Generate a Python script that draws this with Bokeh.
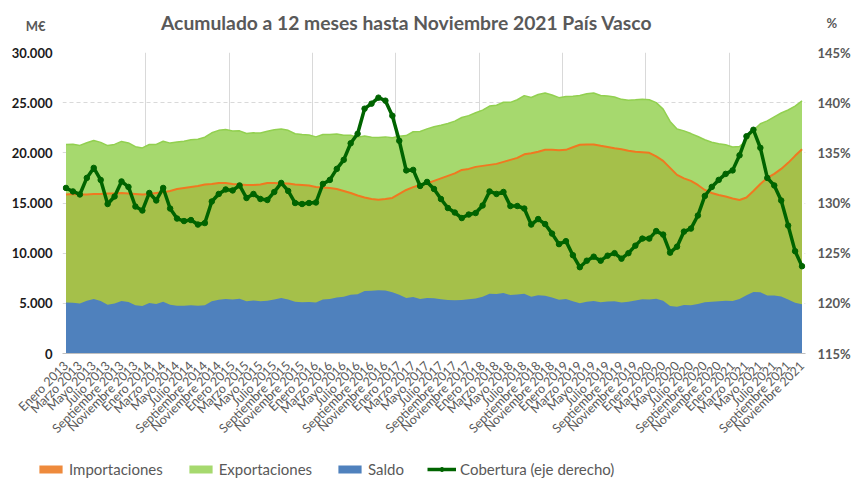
from bokeh.plotting import figure
from bokeh.layouts import column
from bokeh.models import (Range1d, LinearAxis, FixedTicker, ColumnDataSource, Legend,
                          LegendItem, Label, PrintfTickFormatter)
from bokeh.embed import file_html
from bokeh.resources import INLINE

meses = ["Enero", "Febrero", "Marzo", "Abril", "Mayo", "Junio", "Julio", "Agosto",
         "Septiembre", "Octubre", "Noviembre", "Diciembre"]
anios = [2013, 2014, 2015, 2016, 2017, 2018, 2019, 2020, 2021]
periodos = [f"{m} {a}" for a in anios for m in meses][:107]

importaciones = [15850, 15900, 15850, 15850, 15900, 15900, 15950, 15950, 16000, 15950, 15900, 15850,
                 15900, 16000, 16080, 16200, 16400, 16500, 16600, 16700, 16840, 16900, 16990, 16990,
                 16900, 16840, 16800, 16800, 16850, 17000, 17000, 16950, 16950, 16850, 16800, 16750,
                 16600, 16550, 16500, 16400, 16200, 16000, 15750, 15550, 15400, 15320, 15400, 15500,
                 15900, 16300, 16580, 16800, 16950, 17200, 17450, 17700, 17950, 18300, 18400, 18600,
                 18700, 18800, 18900, 19100, 19300, 19500, 19850, 19960, 20100, 20300, 20300, 20250,
                 20300, 20550, 20800, 20830, 20830, 20700, 20580, 20450, 20350, 20200, 20100, 20050,
                 20000, 19650, 19200, 18500, 17800, 17450, 17200, 16800, 16300, 16000, 15800, 15650,
                 15450, 15300, 15550, 16200, 16900, 17500, 17900, 18400, 19000, 19700, 20350]

exportaciones = [20840, 20850, 20740, 21000, 21230, 21040, 20720, 20840, 21140, 20990, 20610, 20490,
                 20830, 20840, 21150, 20970, 21070, 21150, 21300, 21350, 21560, 22000, 22240, 22320,
                 22180, 22190, 21920, 21990, 21970, 22150, 22290, 22370, 22240, 21900, 21820, 21780,
                 21590, 21830, 21830, 21880, 21760, 21750, 21560, 21680, 21550, 21520, 21590, 21500,
                 21660, 21720, 22100, 22130, 22390, 22600, 22750, 22920, 23160, 23520, 23710, 23990,
                 24260, 24660, 24740, 25040, 25030, 25290, 25700, 25520, 25810, 25960, 25770, 25500,
                 25620, 25650, 25710, 25880, 25960, 25720, 25670, 25560, 25330, 25250, 25280, 25350,
                 25290, 25000, 24360, 23130, 22370, 22190, 21920, 21630, 21300, 21060, 20900, 20800,
                 20590, 20620, 21250, 22240, 22900, 23190, 23580, 23970, 24270, 24660, 25170]

saldo = [5090, 5050, 4990, 5250, 5430, 5240, 4870, 4990, 5240, 5140, 4810, 4740,
         5030, 4940, 5170, 4870, 4770, 4750, 4800, 4750, 4820, 5200, 5350, 5430,
         5380, 5450, 5220, 5290, 5220, 5250, 5390, 5520, 5390, 5150, 5120, 5130,
         5090, 5380, 5430, 5580, 5660, 5850, 5910, 6230, 6250, 6300, 6290, 6100,
         5860, 5520, 5620, 5430, 5540, 5500, 5400, 5320, 5310, 5320, 5410, 5490,
         5660, 5960, 5940, 6040, 5830, 5890, 5950, 5660, 5810, 5760, 5570, 5350,
         5420, 5200, 5010, 5150, 5230, 5120, 5190, 5210, 5080, 5150, 5280, 5400,
         5390, 5450, 5260, 4730, 4670, 4840, 4820, 4930, 5100, 5160, 5200, 5250,
         5240, 5420, 5800, 6140, 6100, 5790, 5780, 5670, 5370, 5060, 4920]

cobertura = [131.5, 131.15, 130.85, 132.5, 133.5, 132.3, 129.9, 130.65, 132.15, 131.6, 129.65, 129.25,
             131.0, 130.25, 131.5, 129.45, 128.45, 128.2, 128.3, 127.85, 128.0, 130.15, 130.9, 131.35,
             131.25, 131.75, 130.5, 130.9, 130.4, 130.3, 131.1, 132.0, 131.2, 130.0, 129.9, 130.0,
             130.05, 131.9, 132.3, 133.4, 134.3, 135.95, 136.9, 139.4, 139.9, 140.5, 140.2, 138.7,
             136.2, 133.25, 133.3, 131.7, 132.1, 131.4, 130.4, 129.5, 129.05, 128.5, 128.85, 129.0,
             129.75, 131.15, 130.9, 131.1, 129.7, 129.7, 129.45, 127.85, 128.4, 127.9, 126.95, 125.9,
             126.2, 124.8, 123.6, 124.25, 124.65, 124.25, 124.75, 125.0, 124.45, 125.0, 125.75, 126.45,
             126.45, 127.2, 126.85, 125.05, 125.65, 127.15, 127.45, 128.75, 130.7, 131.6, 132.3, 132.9,
             133.25, 134.75, 136.65, 137.3, 135.5, 132.5, 131.75, 130.25, 127.75, 125.2, 123.7]

y_ticks = [0, 5000, 10000, 15000, 20000, 25000, 30000]
y_tick_labels = ["0", "5.000", "10.000", "15.000", "20.000", "25.000", "30.000"]
pct_ticks = [115, 120, 125, 130, 135, 140, 145]

titulo = "Acumulado a 12 meses hasta Noviembre 2021 País Vasco"
unidad_izq = "M€"
unidad_der = "%"
series = ["Importaciones", "Exportaciones", "Saldo", "Cobertura (eje derecho)"]

FONT = "Lato"
GREY = "#595959"
C_EXP = "#A6D96E"
C_EXP_EDGE = "#92D050"
C_IMP_AREA = "#A5C04A"
C_IMP_LINE = "#F07820"
C_IMP_LEG = "#EE8A3C"
C_SAL = "#4F81BD"
C_COB = "#006400"

W = 853
FRAME_L, FRAME_R = 62, 808
HEAD_H = 40
FOOT_H = 40
MAIN_H = 493 - HEAD_H - FOOT_H


def style_axis(ax, size="13px", color=GREY, bold=True, standoff=10):
    ax.major_label_text_font = FONT
    ax.major_label_text_font_style = "bold" if bold else "normal"
    ax.major_label_text_font_size = size
    ax.major_label_text_color = color
    ax.major_label_standoff = standoff
    ax.major_tick_out = 0
    ax.major_tick_in = 0
    ax.minor_tick_line_color = None
    ax.axis_line_color = None


# ---------- header (title + units) ----------
head = figure(width=W, height=HEAD_H, output_backend="svg", toolbar_location=None,
              x_range=Range1d(FRAME_L, FRAME_R), y_range=Range1d(0, HEAD_H),
              x_axis_location=None, y_axis_location="left",
              min_border_left=FRAME_L, min_border_right=W - FRAME_R,
              min_border_top=0, min_border_bottom=0)
head.outline_line_color = None
head.grid.visible = False
hl = head.yaxis[0]
hl.ticker = FixedTicker(ticks=[HEAD_H - 25])
hl.major_label_overrides = {HEAD_H - 25: unidad_izq}
style_axis(hl, standoff=17)
hr = LinearAxis(ticker=FixedTicker(ticks=[HEAD_H - 22]),
                major_label_overrides={HEAD_H - 22: unidad_der})
style_axis(hr, standoff=21)
head.add_layout(hr, "right")
head.add_layout(Label(x=407.5, y=HEAD_H - 22, text=titulo, text_font=FONT,
                      text_font_style="bold", text_font_size="19.3px", text_color=GREY,
                      text_align="center", text_baseline="middle"))

# ---------- main chart ----------
x = list(range(len(periodos)))
src = ColumnDataSource(dict(x=x, exp=exportaciones, imp=importaciones, sal=saldo,
                            cob=cobertura, zero=[0] * len(x)))

p = figure(width=W, height=MAIN_H, output_backend="svg", toolbar_location=None,
           x_range=Range1d(-0.5, len(x) - 0.5), y_range=Range1d(0, 30000),
           min_border_left=FRAME_L, min_border_right=W - FRAME_R,
           min_border_top=52 - HEAD_H, min_border_bottom=HEAD_H + MAIN_H - 353)
p.extra_y_ranges = {"pct": Range1d(115, 145)}
p.outline_line_color = None

p.varea(x="x", y1="zero", y2="exp", source=src, fill_color=C_EXP)
p.line(x="x", y="exp", source=src, line_color=C_EXP_EDGE, line_width=1.5)
p.varea(x="x", y1="zero", y2="imp", source=src, fill_color=C_IMP_AREA)
p.line(x="x", y="imp", source=src, line_color=C_IMP_LINE, line_width=2)
p.varea(x="x", y1="zero", y2="sal", source=src, fill_color=C_SAL)
p.line(x="x", y="cob", source=src, y_range_name="pct", line_color=C_COB, line_width=3.5)
p.scatter(x="x", y="cob", source=src, y_range_name="pct", size=5.5,
          fill_color=C_COB, line_color=C_COB)

p.xgrid.ticker = FixedTicker(ticks=[-0.5 + 12 * k for k in range(9)])
p.xgrid.grid_line_color = "#D9D9D9"
p.ygrid.ticker = FixedTicker(ticks=y_ticks[1:])
p.ygrid.grid_line_color = "#D9D9D9"
p.ygrid.grid_line_dash = "4 3"

xa = p.xaxis[0]
xa.ticker = FixedTicker(ticks=list(range(0, len(x), 2)))
xa.major_label_overrides = {i: periodos[i] for i in range(0, len(x), 2)}
style_axis(xa, size="12.5px", bold=False, standoff=10)
xa.major_label_orientation = 0.785
xa.axis_line_color = "#BFBFBF"

ya = p.yaxis[0]
ya.ticker = FixedTicker(ticks=y_ticks)
ya.major_label_overrides = dict(zip(y_ticks, y_tick_labels))
style_axis(ya, color="#1A1A1A", standoff=10)

ra = LinearAxis(y_range_name="pct", ticker=FixedTicker(ticks=pct_ticks),
                formatter=PrintfTickFormatter(format="%d%%"))
style_axis(ra, standoff=12)
p.add_layout(ra, "right")

# ---------- footer with legend ----------
foot = figure(width=W, height=FOOT_H, output_backend="svg", toolbar_location=None,
              x_range=Range1d(0, 1), y_range=Range1d(0, 1),
              x_axis_location=None, y_axis_location=None,
              min_border_left=FRAME_L, min_border_right=W - FRAME_R,
              min_border_top=0, min_border_bottom=0)
foot.outline_line_color = None
foot.grid.visible = False
# swatches for the legend only (their data lie outside the visible range)
g_imp = foot.varea(x=[-10, -9], y1=[0, 0], y2=[1, 1], fill_color=C_IMP_LEG)
g_exp = foot.varea(x=[-10, -9], y1=[0, 0], y2=[1, 1], fill_color=C_EXP)
g_sal = foot.varea(x=[-10, -9], y1=[0, 0], y2=[1, 1], fill_color=C_SAL)
g_cl = foot.line(x=[-10, -9], y=[0, 0], line_color=C_COB, line_width=3.5)
g_cp = foot.scatter(x=[-10], y=[0], size=5, fill_color=C_COB, line_color=C_COB)
legend = Legend(items=[
    LegendItem(label=series[0], renderers=[g_imp]),
    LegendItem(label=series[1], renderers=[g_exp]),
    LegendItem(label=series[2], renderers=[g_sal]),
    LegendItem(label=series[3], renderers=[g_cl, g_cp]),
], location=(0, FOOT_H - 15 - 10), orientation="horizontal", glyph_width=29, glyph_height=10,
    label_standoff=4, spacing=23, padding=0, margin=0, border_line_color=None,
    background_fill_alpha=0, label_text_font=FONT, label_text_font_size="15px",
    label_text_color=GREY)
foot.add_layout(legend, "center")
foot.styles = {"transform": "translateX(-26px)"}

layout = column(head, p, foot, spacing=0)
open("out.html", "w").write(file_html(layout, INLINE))
